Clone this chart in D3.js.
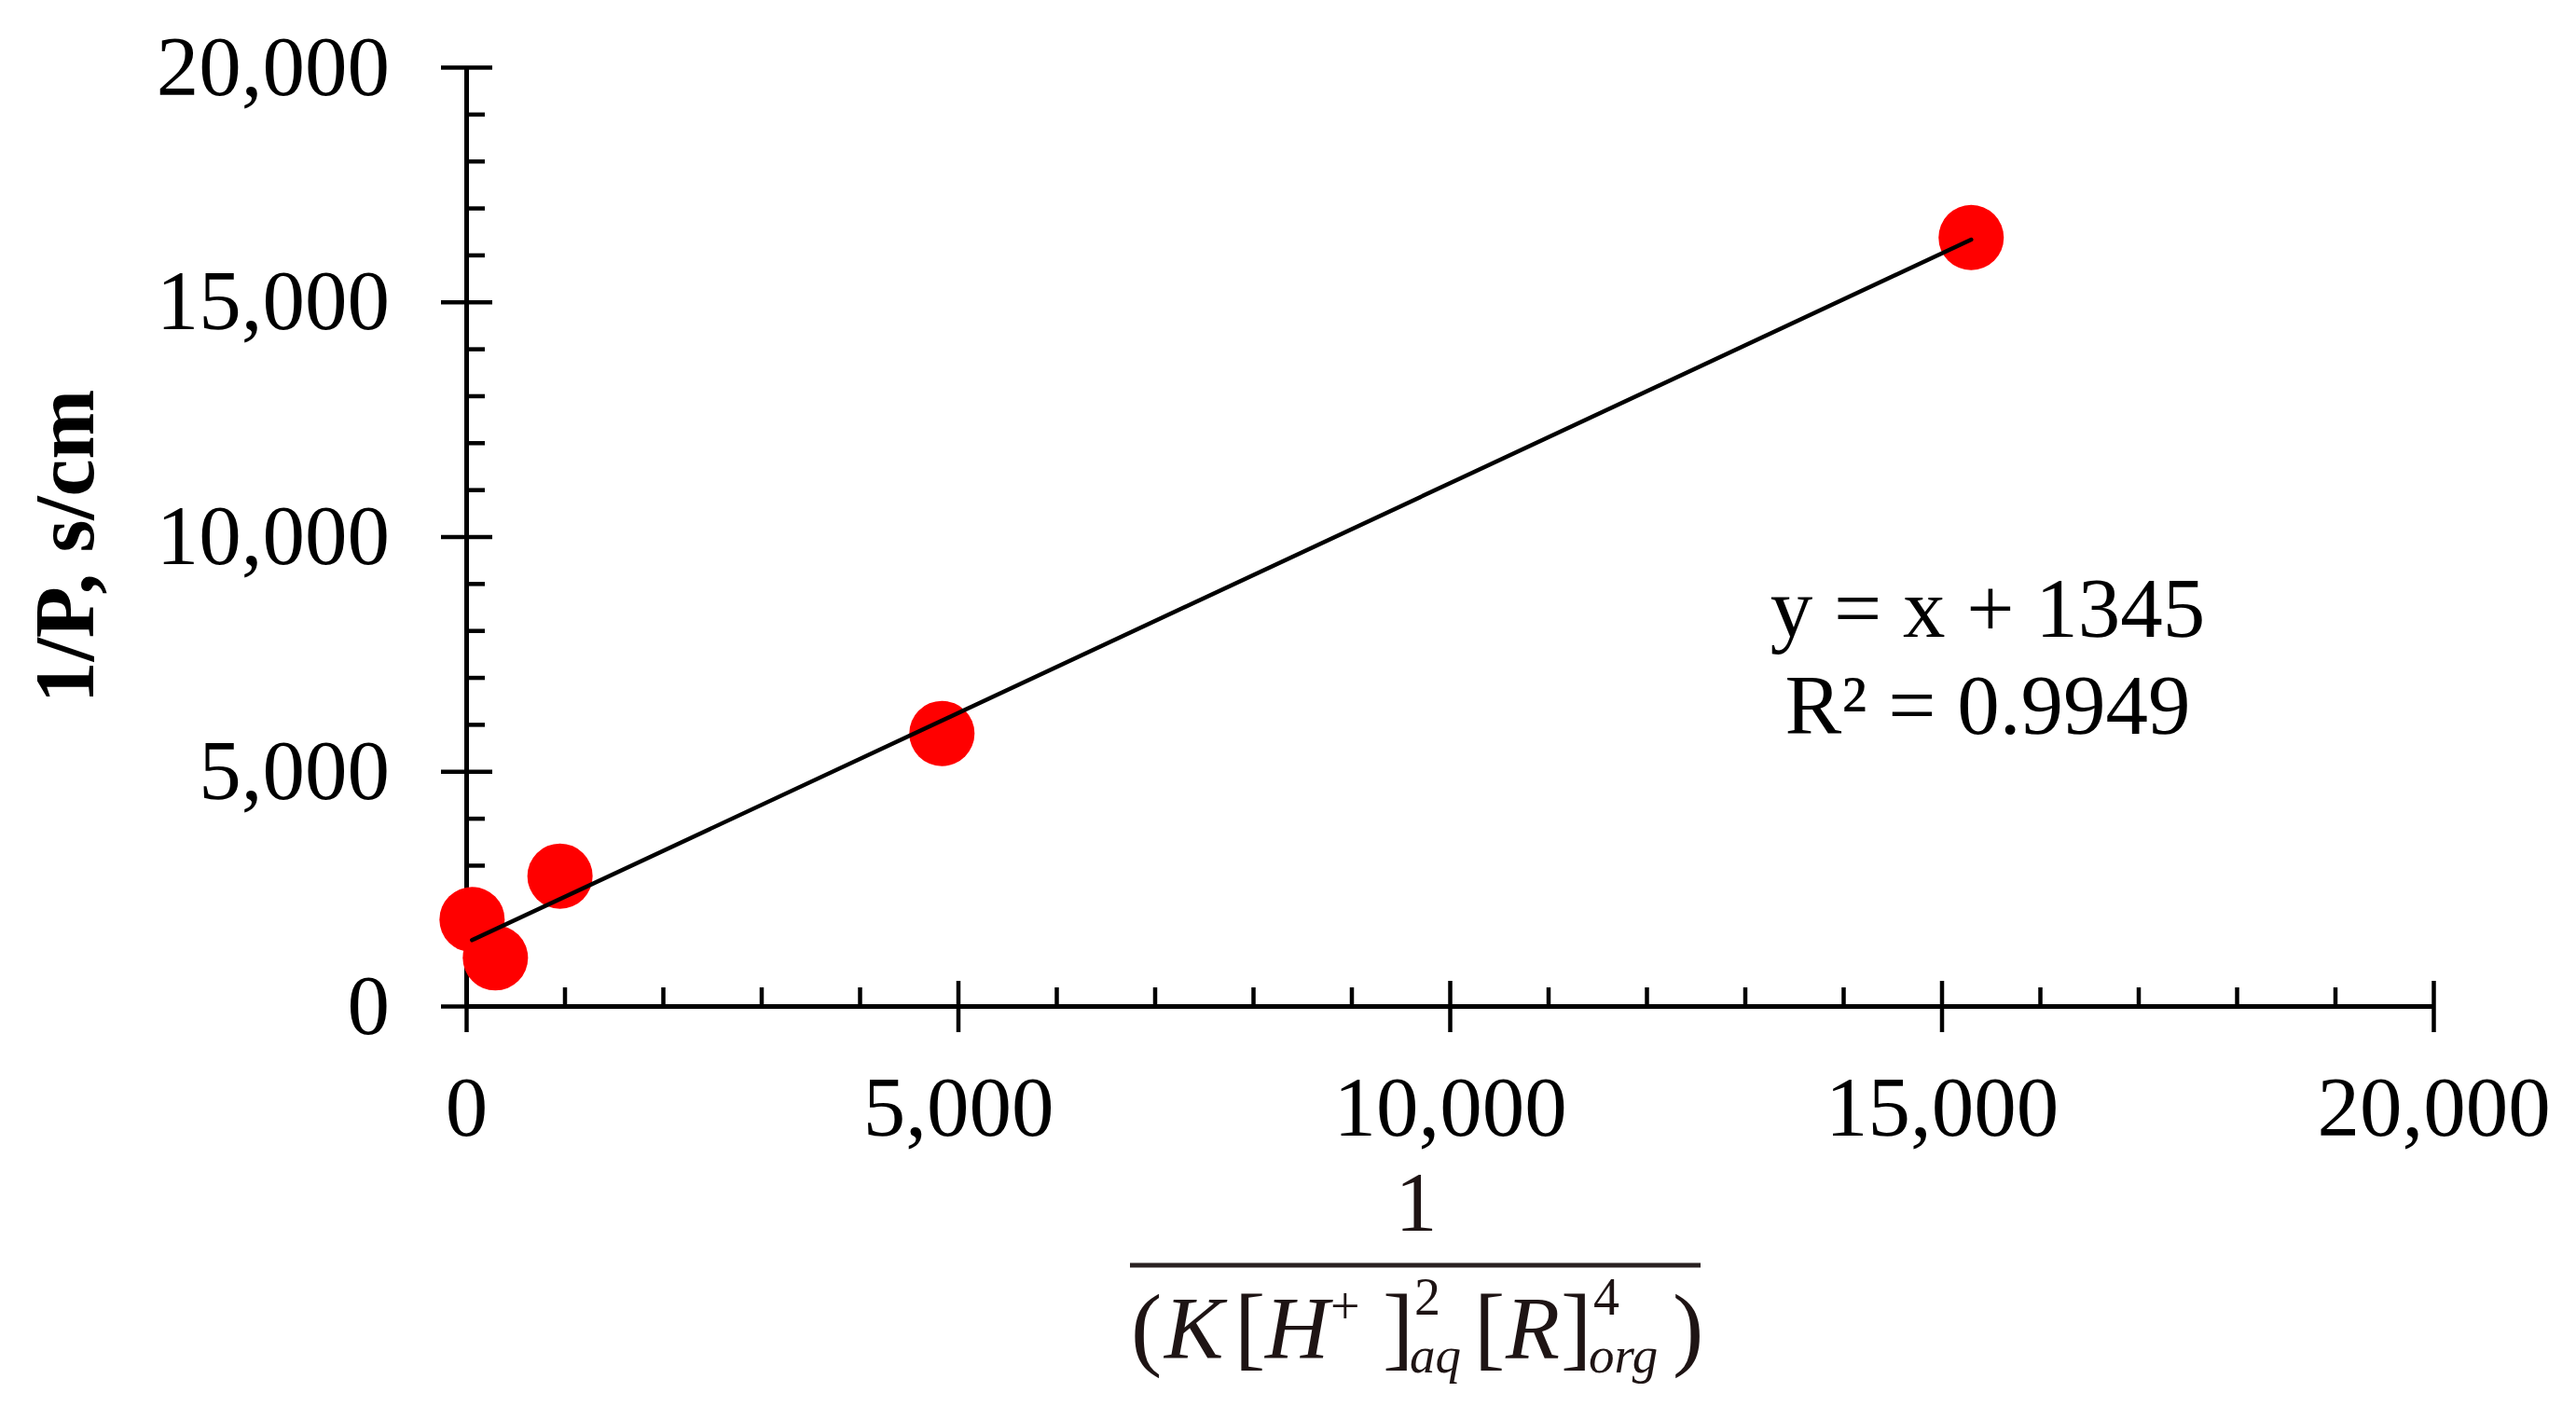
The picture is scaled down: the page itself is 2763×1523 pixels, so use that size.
<!DOCTYPE html>
<html>
<head>
<meta charset="utf-8">
<script src="https://cdn.jsdelivr.net/npm/d3@7"></script>
<style>
  html, body { margin: 0; padding: 0; background: #fff; overflow: hidden; }
  svg { display: block; }
</style>
</head>
<body>
<script>
// ---- data ----
const xValues = [60, 297, 954, 4837, 15301];
const yValues = [1842, 1027, 2767, 5806, 16370];
const trendSlope = 0.979;
const trendIntercept = 1345;
const xTickValues = [0, 5000, 10000, 15000, 20000];
const yTickValues = [0, 5000, 10000, 15000, 20000];
const minorStep = 1000;
const equationLines = ["y = x + 1345", "R\u00b2 = 0.9949"];
const yTitle = "1/P, s/cm";

// ---- layout ----
const W = 2763, H = 1523;
const plot = { left: 500, right: 2610, top: 72, bottom: 1079 };
const serif = "'Times New Roman', 'Liberation Serif', serif";
const fs = 91;

const svg = d3.select("body").append("svg")
  .attr("width", W).attr("height", H)
  .style("background", "#fff");

const x = d3.scaleLinear().domain([0, 20000]).range([plot.left, plot.right]);
const y = d3.scaleLinear().domain([0, 20000]).range([plot.bottom, plot.top]);

const minorVals = d3.range(0, 20001, minorStep).filter(v => v % 5000 !== 0);

function styleAxis(g) {
  g.selectAll("path.domain").attr("stroke", "#000").attr("stroke-width", 5);
  g.selectAll(".tick line").attr("stroke", "#000").attr("stroke-width", 4.5);
  g.selectAll(".tick text")
    .attr("fill", "#000")
    .style("font-family", serif)
    .style("font-size", fs + "px");
}

// Y axis: outward major ticks with labels
svg.append("g").attr("transform", `translate(${plot.left},0)`)
  .call(d3.axisLeft(y).tickValues(yTickValues).tickSize(27).tickSizeOuter(0)
    .tickPadding(55).tickFormat(d3.format(",")))
  .call(styleAxis);
// Y axis: inward halves of major ticks
svg.append("g").attr("transform", `translate(${plot.left},0)`)
  .call(d3.axisLeft(y).tickValues(yTickValues).tickSize(-28).tickSizeOuter(0).tickFormat(""))
  .call(styleAxis);
// Y axis: minor inward ticks
svg.append("g").attr("transform", `translate(${plot.left},0)`)
  .call(d3.axisLeft(y).tickValues(minorVals).tickSize(-20).tickSizeOuter(0).tickFormat(""))
  .call(styleAxis);

// X axis: outward major ticks with labels
svg.append("g").attr("transform", `translate(0,${plot.bottom})`)
  .call(d3.axisBottom(x).tickValues(xTickValues).tickSize(28).tickSizeOuter(0)
    .tickPadding(46).tickFormat(d3.format(",")))
  .call(styleAxis);
svg.append("g").attr("transform", `translate(0,${plot.bottom})`)
  .call(d3.axisBottom(x).tickValues(xTickValues).tickSize(-27).tickSizeOuter(0).tickFormat(""))
  .call(styleAxis);
svg.append("g").attr("transform", `translate(0,${plot.bottom})`)
  .call(d3.axisBottom(x).tickValues(minorVals).tickSize(-20).tickSizeOuter(0).tickFormat(""))
  .call(styleAxis);

// ---- points ----
const pts = xValues.map((v, i) => ({ x: v, y: yValues[i] }));
svg.append("g").selectAll("circle").data(pts).join("circle")
  .attr("cx", d => x(d.x)).attr("cy", d => y(d.y)).attr("r", 35)
  .attr("fill", "#ff0000");

// ---- trend line ----
const [xmin, xmax] = d3.extent(xValues);
const trendPts = [xmin, xmax].map(v => ({ x: v, y: trendSlope * v + trendIntercept }));
svg.append("path").datum(trendPts)
  .attr("d", d3.line().x(d => x(d.x)).y(d => y(d.y)))
  .attr("fill", "none").attr("stroke", "#000").attr("stroke-width", 4.5)
  .attr("stroke-linecap", "round");

// ---- equation ----
svg.append("g").selectAll("text").data(equationLines).join("text")
  .attr("x", 2132).attr("y", (d, i) => 683 + i * 104)
  .attr("text-anchor", "middle")
  .style("font-family", serif).style("font-size", fs + "px")
  .attr("fill", "#000")
  .text(d => d);

// ---- y title ----
svg.append("text")
  .attr("transform", "translate(100,586) rotate(-90)")
  .attr("text-anchor", "middle")
  .style("font-family", serif).style("font-size", "90px").style("font-weight", "bold")
  .attr("fill", "#000")
  .text(yTitle);

// ---- x title (fraction) ----
const mathColor = "#1e1414";
const fr = svg.append("g").attr("fill", mathColor).style("font-family", serif);
fr.append("text").attr("x", 1519).attr("y", 1320).attr("text-anchor", "middle")
  .style("font-size", "90px").text("1");
fr.append("line").attr("x1", 1212).attr("x2", 1824).attr("y1", 1357).attr("y2", 1357)
  .attr("stroke", "#2a2222").attr("stroke-width", 5);
const pieces = [
  { t: "(", x: 1213, y: 1457, s: 100, i: false },
  { t: "K", x: 1249, y: 1457, s: 95, i: true },
  { t: "[", x: 1324, y: 1457, s: 100, i: false },
  { t: "H", x: 1357, y: 1457, s: 95, i: true },
  { t: "+", x: 1427, y: 1420, s: 56, i: false },
  { t: "]", x: 1483, y: 1457, s: 100, i: false },
  { t: "2", x: 1517, y: 1410, s: 56, i: false },
  { t: "aq", x: 1512, y: 1472, s: 55, i: true },
  { t: "[", x: 1581, y: 1457, s: 100, i: false },
  { t: "R", x: 1615, y: 1457, s: 95, i: true },
  { t: "]", x: 1674, y: 1457, s: 100, i: false },
  { t: "4", x: 1709, y: 1410, s: 56, i: false },
  { t: "org", x: 1704, y: 1472, s: 55, i: true },
  { t: ")", x: 1794, y: 1457, s: 100, i: false }
];
const denom = fr.append("text");
denom.selectAll("tspan").data(pieces).join("tspan")
  .attr("x", d => d.x).attr("y", d => d.y)
  .style("font-size", d => d.s + "px")
  .style("font-style", d => d.i ? "italic" : "normal")
  .text(d => d.t);
</script>
</body>
</html>
